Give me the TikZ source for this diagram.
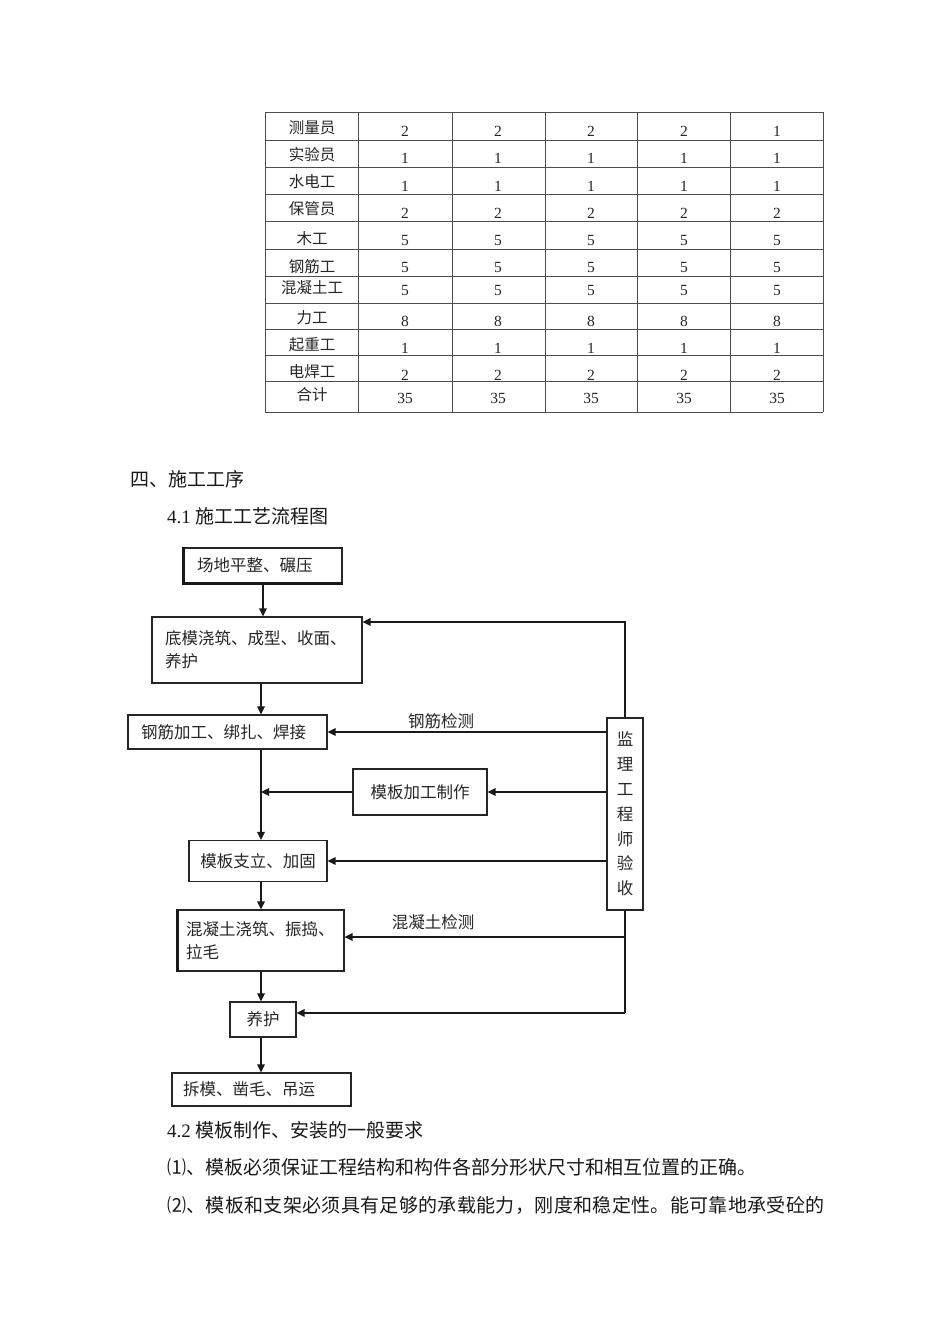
\documentclass[tikz,border=0pt]{standalone}
\usepackage{fontspec}
\setmainfont{Liberation Serif}
\newfontfamily\cjk{Noto Sans CJK SC}
\newfontfamily\cjkwide[LetterSpace=1.8]{Noto Sans CJK SC}
\usetikzlibrary{arrows.meta}
\begin{document}
\begin{tikzpicture}[x=1pt,y=-1pt,
  tl/.style={draw=black!70,line width=0.8pt},
  box/.style={draw=black!85,line width=1.1pt,inner sep=0pt,font=\cjk\fontsize{16.5}{23}\selectfont,text=black!85},
  arr/.style={line width=1.3pt,draw=black!90,-{Triangle[length=8pt,width=7.5pt]}},
  ln/.style={line width=1.3pt,draw=black!90},
  lab/.style={font=\cjk\fontsize{16.5}{16.5}\selectfont,text=black!85,inner sep=0pt},
  tcell/.style={font=\cjk\fontsize{15.5}{15.5}\selectfont,text=black!85,inner sep=0pt},
  tnum/.style={font=\fontsize{15.5}{15.5}\selectfont,text=black!85,inner sep=0pt},
  body/.style={font=\cjk\fontsize{19}{19}\selectfont,text=black!90,anchor=west,inner sep=0pt}]
\useasboundingbox (0,0) rectangle (950,1344);
\fill[white] (0,0) rectangle (950,1344);

% ---- table ----
\foreach \yy in {112,140,167.5,194.5,221.5,249,276,303.5,329.5,355.5,381.5,412}
  \draw[tl] (265,\yy) -- (823,\yy);
\foreach \xx in {265,358,452,545,637,730,823}
  \draw[tl] (\xx,112) -- (\xx,412);
\foreach \lab/\ly/\ny/\a/\b/\c/\d/\e [count=\i] in {
  测量员/128/131/2/2/2/2/1,
  实验员/155/158/1/1/1/1/1,
  水电工/182/186/1/1/1/1/1,
  保管员/209/213/2/2/2/2/2,
  木工/239/240/5/5/5/5/5,
  钢筋工/267/267/5/5/5/5/5,
  混凝土工/288/290/5/5/5/5/5,
  力工/318/321/8/8/8/8/8,
  起重工/345/348/1/1/1/1/1,
  电焊工/372/375/2/2/2/2/2,
  合计/395/398/35/35/35/35/35}{
  \node[tcell] (L\i) at (312,\ly) {\lab};
  \foreach \v/\cx [count=\j] in {\a/405,\b/498,\c/591,\d/684,\e/777}
    \node[tnum] (N\i-\j) at (\cx,\ny) {\v};
}

% ---- headings ----
\node[body] (h4) at (130,479) {四、施工工序};
\node[body] (h41) at (167,516) {{\rmfamily 4.1} 施工工艺流程图};

% ---- flowchart boxes ----
\node[box,minimum width=158,minimum height=35,text width=132,align=left] (cd) at (263,565.5) {场地平整、碾压};
\node[box,minimum width=210,minimum height=66,text width=184,align=left] (dm) at (257,650) {底模浇筑、成型、收面、\\养护};
\node[box,minimum width=199,minimum height=34,text width=173,align=left] (jg) at (227.5,732) {钢筋加工、绑扎、焊接};
\node[box,minimum width=134,minimum height=46,align=center] (mb) at (420,792) {模板加工制作};
\node[box,minimum width=138,minimum height=41,align=center] (mz) at (258,861) {模板支立、加固};
\node[box,minimum width=166,minimum height=61,text width=150,align=left] (hn) at (261,940.5) {混凝土浇筑、振捣、\\拉毛};
\node[box,minimum width=66,minimum height=35,align=center] (yh) at (263,1019.5) {养护};
\node[box,minimum width=179,minimum height=33,text width=157,align=left] (cm) at (261.5,1089.5) {拆模、凿毛、吊运};
\node[box,minimum width=36,minimum height=192,align=center,font=\cjk\fontsize{16.5}{24.8}\selectfont] (jl) at (625,814) {监\\理\\工\\程\\师\\验\\收};

\draw[line width=2.4pt,draw=black!90] (cd.north west) -- (cd.south west) -- (cd.south east);
\draw[line width=2.4pt,draw=black!90] (hn.north west) -- (hn.south west);

% ---- labels ----
\node[lab] (l1) at (441,721) {钢筋检测};
\node[lab] (l2) at (433,922) {混凝土检测};

% ---- main flow arrows ----
\coordinate (ax) at (261,0);
\draw[arr] (cd.south) -- (cd.south |- dm.north);
\draw[arr] (dm.south -| ax) -- (jg.north -| ax);
\draw[arr] (jg.south -| ax) -- (mz.north -| ax);
\draw[arr] (mb.west) -- (mb.west -| ax);
\draw[arr] (mz.south -| ax) -- (hn.north -| ax);
\draw[arr] (hn.south -| ax) -- (yh.north -| ax);
\draw[arr] (yh.south -| ax) -- (cm.north -| ax);

% ---- supervisor connectors ----
\coordinate (mt) at (625,622);
\draw[arr] (jl.north) -- (mt) -- (mt -| dm.east);
\draw[arr] (jl.west |- jg.east) -- (jg.east);
\draw[arr] (jl.west |- mb.east) -- (mb.east);
\draw[arr] (jl.west |- mz.east) -- (mz.east);
\coordinate (mbt) at (625,1013);
\coordinate (mh) at (625,937);
\draw[ln] (jl.south) -- (mbt);
\draw[arr] (mh) -- (mh -| hn.east);
\draw[arr] (mbt) -- (mbt -| yh.east);

% ---- body text ----
\node[body] (h42) at (167,1130) {{\rmfamily 4.2} 模板制作、安装的一般要求};
\node[body] (p1) at (167,1167) {⑴、模板必须保证工程结构和构件各部分形状尺寸和相互位置的正确。};
\node[body,font=\cjkwide\fontsize{19}{19}\selectfont] (p2) at (167,1205) {⑵、模板和支架必须具有足够的承载能力，刚度和稳定性。能可靠地承受砼的};
\end{tikzpicture}
\end{document}
